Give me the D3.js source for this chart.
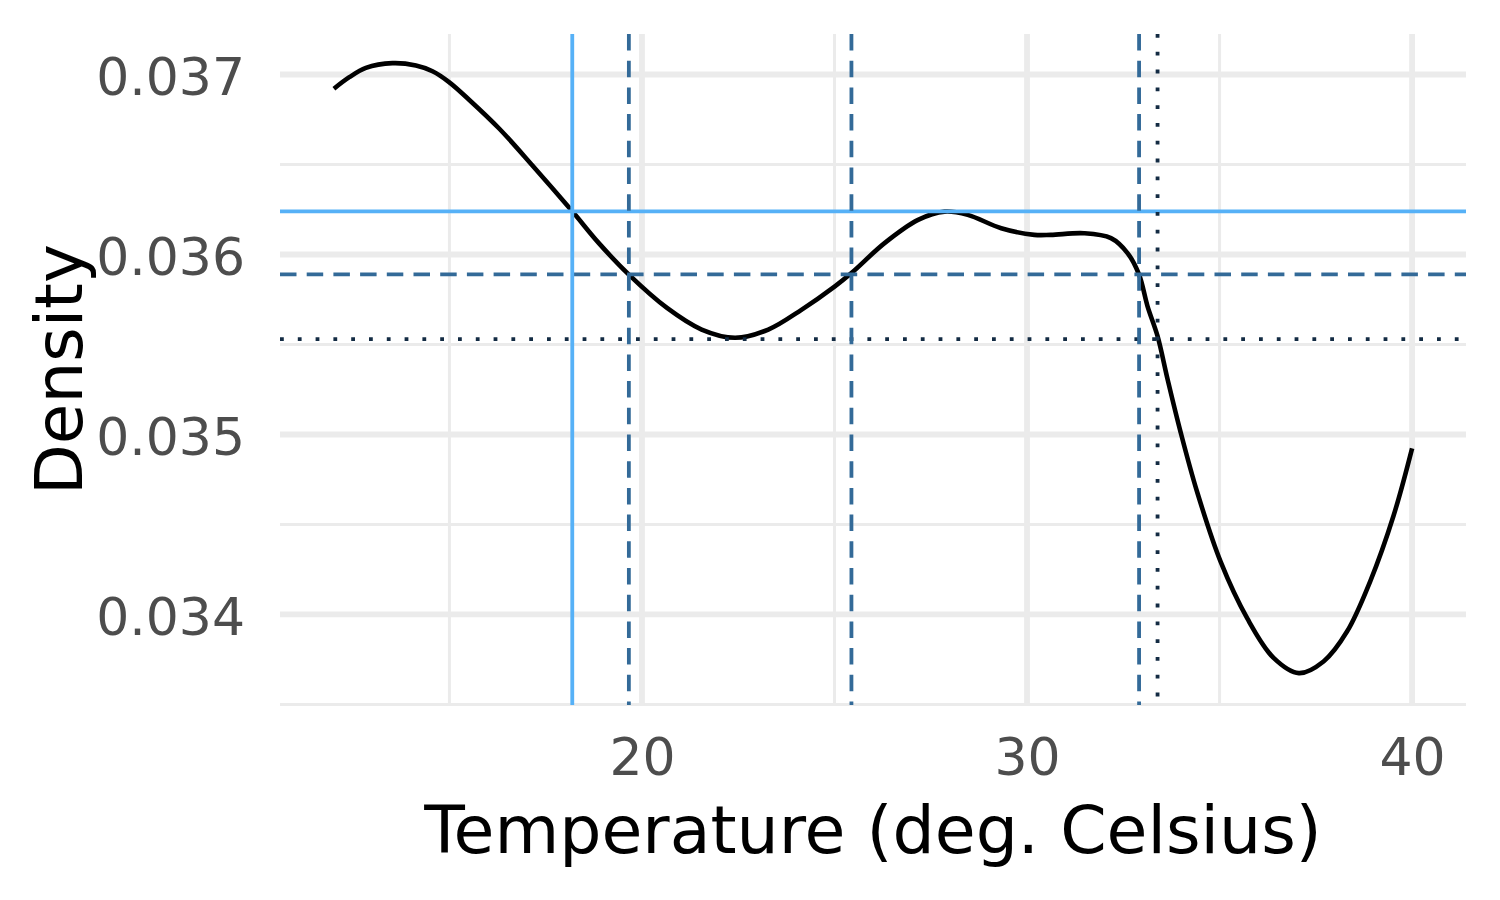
<!DOCTYPE html>
<html>
<head>
<meta charset="utf-8">
<script src="https://cdn.jsdelivr.net/npm/d3@7"></script>
<style>
  body { margin: 0; background: #fff; }
  svg { display: block; }
</style>
</head>
<body>
<svg id="chart"></svg>
<script>
// Density curve
const densityX = [12.0, 12.40, 12.83, 13.52, 14.13, 14.56, 14.99, 15.51, 16.29, 17.15, 18.19,
                  18.88, 19.66, 20.65, 21.55, 22.42, 23.28, 24.15, 25.01, 25.44, 26.30, 27.17,
                  27.86, 28.46, 29.33, 30.19, 30.62, 31.48, 32.18, 32.61, 32.91, 33.13, 33.39,
                  33.65, 33.99, 34.42, 35.03, 35.72, 36.41, 37.06, 37.70, 38.31, 38.91, 39.52,
                  40.0];
const densityY = [0.036921, 0.036985, 0.037037, 0.037063, 0.037050, 0.037018, 0.036958, 0.036860,
                  0.036700, 0.036496, 0.036240, 0.036063, 0.035888, 0.035703, 0.035583, 0.035537,
                  0.035583, 0.035694, 0.035823, 0.035897, 0.036063, 0.036192, 0.036238, 0.036220,
                  0.036146, 0.036109, 0.036109, 0.036118, 0.036091, 0.036008, 0.035888, 0.035712,
                  0.035546, 0.035307, 0.035012, 0.034679, 0.034292, 0.033978, 0.033757, 0.033674,
                  0.033739, 0.033905, 0.034183, 0.034550, 0.034923];

// Highest density levels (horizontal) and their interval bounds (vertical)
const levelNames = ["solid", "dashed", "dotted"];
const hLevels = [0.03624, 0.03589, 0.03553];
const vSolid = [18.19];
const vDashed = [19.66, 25.44, 32.91];
const vDotted = [33.39];

// Axis breaks
const xMajor = [20, 30, 40];
const xMinor = [15, 25, 35];
const yMajor = [0.034, 0.035, 0.036, 0.037];
const yMinor = [0.0335, 0.0345, 0.0355, 0.0365];

const xTitle = "Temperature (deg. Celsius)";
const yTitle = "Density";

// Canvas and panel
const width = 1500, height = 900;
const panel = {left: 280, right: 1466, top: 34, bottom: 705};

const styles = {
    solid:  {color: "#56B1F7", dash: null},
    dashed: {color: "#336A98", dash: "16.5,10.2"},
    dotted: {color: "#132B43", dash: "3.8,14"}
};

const x = d3.scaleLinear().domain([10.6, 41.4]).range([panel.left, panel.right]);
const y = d3.scaleLinear().domain([0.033497, 0.037225]).range([panel.bottom, panel.top]);

const svg = d3.select("#chart")
              .attr("width", width)
              .attr("height", height)
              .style("font-family", "'DejaVu Sans', sans-serif");

// Grid lines: minor first, then major
const grid = svg.append("g");
const gridLines = (vals, w, vertical) => {
    grid.append("g")
        .selectAll("line")
        .data(vals)
        .join("line")
        .attr("x1", d => vertical ? x(d) : panel.left)
        .attr("x2", d => vertical ? x(d) : panel.right)
        .attr("y1", d => vertical ? panel.top : y(d))
        .attr("y2", d => vertical ? panel.bottom : y(d))
        .attr("stroke", "#EBEBEB")
        .attr("stroke-width", w);
};
gridLines(xMinor, 3, true);
gridLines(yMinor, 3, false);
gridLines(xMajor, 5.8, true);
gridLines(yMajor, 5.8, false);

// Density curve
const pts = densityX.map((d, i) => [d, densityY[i]]);
svg.append("path")
   .datum(pts)
   .attr("fill", "none")
   .attr("stroke", "#000")
   .attr("stroke-width", 4.6)
   .attr("stroke-linejoin", "round")
   .attr("d", d3.line()
                .x(d => x(d[0]))
                .y(d => y(d[1]))
                .curve(d3.curveCatmullRom.alpha(0.5)));

// Reference lines
const refs = svg.append("g").attr("fill", "none").attr("stroke-width", 3.8);
refs.selectAll("line.h")
    .data(hLevels)
    .join("line")
    .attr("class", "h")
    .attr("x1", panel.left)
    .attr("x2", panel.right)
    .attr("y1", d => y(d))
    .attr("y2", d => y(d))
    .attr("stroke", (d, i) => styles[levelNames[i]].color)
    .attr("stroke-dasharray", (d, i) => styles[levelNames[i]].dash);

const vLines = [[vSolid, "solid"], [vDashed, "dashed"], [vDotted, "dotted"]];
vLines.forEach(([vals, kind]) => {
    refs.append("g")
        .selectAll("line")
        .data(vals)
        .join("line")
        .attr("x1", d => x(d))
        .attr("x2", d => x(d))
        .attr("y1", panel.top)
        .attr("y2", panel.bottom)
        .attr("stroke", styles[kind].color)
        .attr("stroke-dasharray", styles[kind].dash);
});

// Axes (labels only)
const xAxis = svg.append("g")
                 .attr("transform", `translate(0,${panel.bottom})`)
                 .call(d3.axisBottom(x).tickValues(xMajor).tickSize(0).tickPadding(33).tickFormat(d3.format("d")));
const yAxis = svg.append("g")
                 .attr("transform", `translate(${panel.left},0)`)
                 .call(d3.axisLeft(y).tickValues(yMajor).tickSize(0).tickPadding(35).tickFormat(d3.format(".3f")));
[xAxis, yAxis].forEach(a => {
    a.select(".domain").remove();
    a.selectAll("text")
     .attr("fill", "#4D4D4D")
     .style("font-size", "52px")
     .style("font-family", "'DejaVu Sans', sans-serif");
});
yAxis.selectAll("text").attr("dy", "0.38em");

// Titles
svg.append("text")
   .attr("x", (panel.left + panel.right) / 2)
   .attr("y", 853)
   .attr("text-anchor", "middle")
   .style("font-size", "66.5px")
   .attr("fill", "#000")
   .text(xTitle);

svg.append("text")
   .attr("transform", `translate(82,${(panel.top + panel.bottom) / 2}) rotate(-90)`)
   .attr("text-anchor", "middle")
   .style("font-size", "66px")
   .attr("fill", "#000")
   .text(yTitle);
</script>
</body>
</html>
